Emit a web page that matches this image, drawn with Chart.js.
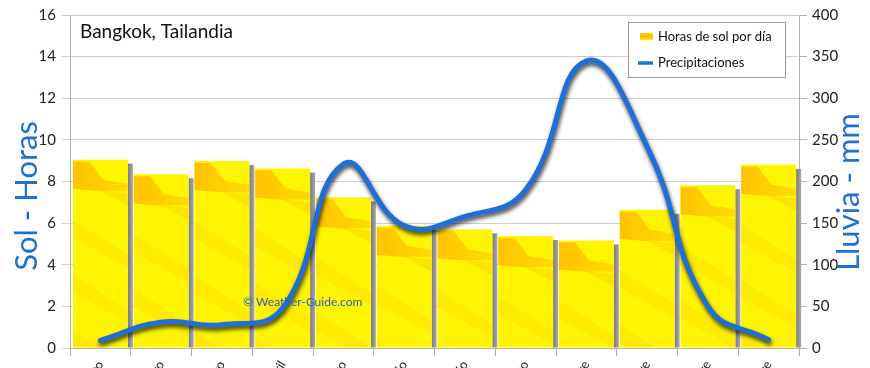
<!DOCTYPE html>
<html>
<head>
<meta charset="utf-8">
<script src="https://cdn.jsdelivr.net/npm/chart.js@4.4.1/dist/chart.umd.min.js"></script>
<style>
html,body{margin:0;padding:0;background:#fff;overflow:hidden;}
#wrap{width:870px;height:368px;position:relative;}
</style>
</head>
<body>
<div id="wrap"><canvas id="c" width="870" height="368"></canvas></div>
<script>
const months = ['Enero','Febrero','Marzo','Abril','Mayo','Junio','Julio','Agosto','Septiembre','Octubre','Noviembre','Diciembre'];
const sunHours = [9.05, 8.35, 8.98, 8.62, 7.24, 5.87, 5.70, 5.38, 5.17, 6.64, 7.82, 8.80];
const rainMm = [9, 31, 28, 48, 221, 147, 158, 190, 345, 242, 50, 10];
const leftTicks = [0,2,4,6,8,10,12,14,16];
const rightTicks = [0,50,100,150,200,250,300,350,400];
const chartTitle = 'Bangkok, Tailandia';
const leftTitle = 'Sol - Horas';
const rightTitle = 'Lluvia - mm';
const watermark = '\u00A9 Weather-Guide.com';
const sunLabel = 'Horas de sol por d\u00EDa';
const rainLabel = 'Precipitaciones';

const FONT = 'Lato, "DejaVu Sans", sans-serif';
const BLUE = '#1f6fd8';

const deco = {
  id: 'deco',
  beforeDatasetsDraw(chart) {
    const ctx = chart.ctx;
    const meta = chart.getDatasetMeta(0);
    ctx.save();
    meta.data.forEach(b => {
      const p = b.getProps(['x','y','base','width'], true);
      const sx = p.x + p.width/2;
      const g = ctx.createLinearGradient(sx, 0, sx + 5, 0);
      g.addColorStop(0, '#7a7a7a'); g.addColorStop(1, '#a8a8a8');
      ctx.fillStyle = g;
      ctx.fillRect(sx, p.y + 4, 5, p.base - p.y - 4);
    });
    ctx.restore();
  },
  beforeDatasetDraw(chart, args) {
    if (args.index === 1) {
      const ctx = chart.ctx;
      ctx.save();
      ctx.shadowColor = 'rgba(0,0,0,0.75)';
      ctx.shadowBlur = 4;
      ctx.shadowOffsetX = 1;
      ctx.shadowOffsetY = 3;
    }
  },
  afterDatasetDraw(chart, args) {
    const ctx = chart.ctx;
    if (args.index === 1) { ctx.restore(); return; }
    if (args.index !== 0) return;
    const meta = chart.getDatasetMeta(0);
    meta.data.forEach(b => {
      const p = b.getProps(['x','y','base','width'], true);
      const l = p.x - p.width/2, r = p.x + p.width/2, t = p.y, w = p.width, h = p.base - p.y;
      ctx.save();
      ctx.beginPath(); ctx.rect(l, t, w, h); ctx.clip();
      // top orange wedge
      const g = ctx.createLinearGradient(l, 0, r, 0);
      g.addColorStop(0, 'rgba(255,160,0,0.6)');
      g.addColorStop(1, 'rgba(255,170,0,0.35)');
      ctx.fillStyle = g;
      ctx.beginPath();
      ctx.moveTo(l, t + 2);
      ctx.lineTo(l + w*0.3, t + 2);
      ctx.lineTo(l + w*0.55, t + 20);
      ctx.lineTo(r, t + 24);
      ctx.lineTo(r, t + 31);
      ctx.lineTo(l + w*0.4, t + 31);
      ctx.lineTo(l, t + 29);
      ctx.closePath(); ctx.fill();
      ctx.fillStyle = 'rgba(255,175,0,0.25)';
      ctx.beginPath();
      ctx.moveTo(l + w*0.45, t + 30);
      ctx.lineTo(r, t + 34);
      ctx.lineTo(r, t + 46);
      ctx.closePath(); ctx.fill();
      // lower diagonal streaks
      for (let k = 60; k < h + 60; k += 55) {
        ctx.fillStyle = 'rgba(255,170,0,0.14)';
        ctx.beginPath();
        ctx.moveTo(l, t + k);
        ctx.lineTo(r, t + k + 35);
        ctx.lineTo(r, t + k + 48);
        ctx.lineTo(l, t + k + 18);
        ctx.closePath(); ctx.fill();
      }
      ctx.restore();
    });
  },
  afterDraw(chart) {
    const ctx = chart.ctx;
    const ca = chart.chartArea;
    ctx.save();
    // chart title
    ctx.fillStyle = '#111';
    ctx.font = '19px ' + FONT;
    ctx.textBaseline = 'middle';
    ctx.textAlign = 'left';
    ctx.fillText(chartTitle, ca.left + 10, 32);
    // watermark
    ctx.fillStyle = '#2a62c8';
    ctx.font = '12px ' + FONT;
    ctx.fillText(watermark, 243, 302);
    // axis titles
    ctx.fillStyle = BLUE;
    ctx.font = '31px ' + FONT;
    ctx.textAlign = 'center';
    ctx.save();
    ctx.translate(27, 196);
    ctx.rotate(-Math.PI/2);
    ctx.fillText(leftTitle, 0, 0);
    ctx.restore();
    ctx.save();
    ctx.translate(849, 192);
    ctx.rotate(-Math.PI/2);
    ctx.fillText(rightTitle, 0, 0);
    ctx.restore();
    // legend
    const lx = 628, ly = 22, lw = 157, lh = 55;
    ctx.fillStyle = '#fff';
    ctx.fillRect(lx, ly, lw, lh);
    ctx.strokeStyle = '#9a9a9a';
    ctx.lineWidth = 1;
    ctx.strokeRect(lx + 0.5, ly + 0.5, lw, lh);
    const g = ctx.createLinearGradient(0, ly + 11, 0, ly + 18);
    g.addColorStop(0, '#ffd000'); g.addColorStop(0.5, '#ffb800'); g.addColorStop(1, '#ffee00');
    ctx.fillStyle = g;
    ctx.fillRect(lx + 12, ly + 11, 13, 7);
    ctx.strokeStyle = BLUE;
    ctx.lineWidth = 3.5;
    ctx.beginPath(); ctx.moveTo(lx + 10, ly + 41); ctx.lineTo(lx + 25, ly + 41); ctx.stroke();
    ctx.fillStyle = '#111';
    ctx.font = '13px ' + FONT;
    ctx.textAlign = 'left';
    ctx.fillText(chart.data.datasets[0].label, lx + 30, ly + 15);
    ctx.fillText(chart.data.datasets[1].label, lx + 30, ly + 41);
    ctx.restore();
  }
};

new Chart(document.getElementById('c'), {
  data: {
    labels: months,
    datasets: [
      { type: 'bar', label: sunLabel, data: sunHours, yAxisID: 'y', backgroundColor: '#fff500',
        barPercentage: 0.905, categoryPercentage: 1.0, order: 2 },
      { type: 'line', label: rainLabel, data: rainMm, yAxisID: 'y1', borderColor: BLUE, borderWidth: 5,
        pointRadius: 0, tension: 0.45, fill: false, order: 1, borderCapStyle: 'round' }
    ]
  },
  options: {
    responsive: false,
    animation: false,
    layout: { padding: { top: 11, left: 0, right: 0, bottom: 0 } },
    plugins: { legend: { display: false }, tooltip: { enabled: false } },
    scales: {
      x: {
        offset: true,
        grid: { display: true, drawOnChartArea: false, offset: true, color: '#b0b0b0', tickLength: 8 },
        border: { color: '#b0b0b0' },
        ticks: { autoSkip: false, minRotation: 60, maxRotation: 60, color: '#222', font: { family: FONT, size: 13 }, padding: 2 },
        afterFit(s) { s.height = 20; }
      },
      y: {
        position: 'left', min: 0, max: 16,
        afterBuildTicks(s) { s.ticks = leftTicks.map(v => ({ value: v })); },
        grid: { color: '#cfcfcf', tickLength: 8 },
        border: { color: '#b0b0b0' },
        ticks: { color: '#222', font: { family: FONT, size: 15 }, padding: 6 },
        afterFit(s) { s.width = 70; }
      },
      y1: {
        position: 'right', min: 0, max: 400,
        afterBuildTicks(s) { s.ticks = rightTicks.map(v => ({ value: v })); },
        grid: { drawOnChartArea: false, color: '#b0b0b0', tickLength: 8 },
        border: { color: '#b0b0b0' },
        ticks: { color: '#222', font: { family: FONT, size: 15 }, padding: 5 },
        afterFit(s) { s.width = 71; }
      }
    }
  },
  plugins: [deco]
});
</script>
</body>
</html>
